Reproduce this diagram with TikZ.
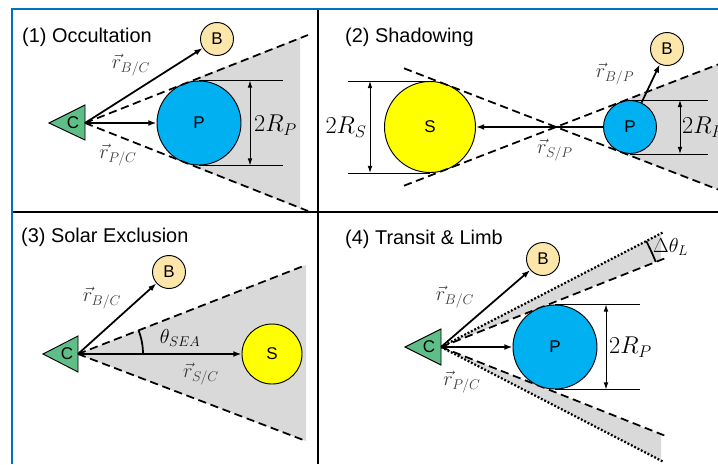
\documentclass[tikz,border=0pt]{standalone}
\usepackage{amsmath}
\usepackage[no-math]{fontspec}
\newfontfamily\arialfont{Liberation Sans}
\usetikzlibrary{arrows.meta,calc,backgrounds}

\definecolor{craftgreen}{RGB}{95,190,135}
\definecolor{planetblue}{RGB}{0,176,240}
\definecolor{sunyellow}{RGB}{255,255,0}
\definecolor{bodytan}{RGB}{253,230,170}
\definecolor{shadegray}{RGB}{217,217,217}
\definecolor{frameblue}{RGB}{0,112,192}
\definecolor{labelgray}{RGB}{60,60,60}

\tikzset{
  paneltitle/.style={anchor=west, inner sep=0pt, font=\fontsize{17}{20}\selectfont\arialfont},
  body/.style={circle, draw, line width=0.8pt, inner sep=0pt, font=\fontsize{14.5}{17}\selectfont\arialfont},
  planet/.style={body, fill=planetblue},
  sun/.style={body, fill=sunyellow},
  target/.style={body, fill=bodytan, minimum size=0.99cm},
  craft/.style={draw, line width=0.8pt, fill=craftgreen},
  craftlabel/.style={inner sep=0pt, font=\fontsize{14.5}{17}\selectfont\arialfont},
  vec/.style={-{Latex[length=7pt,width=5pt]}, line width=1.5pt},
  vecname/.style={inner sep=1pt, text=labelgray, font=\fontsize{16.5}{19}\selectfont},
  cone/.style={dash pattern=on 7pt off 4pt, line width=1.5pt},
  limb/.style={dash pattern=on 1.6pt off 1.6pt, line width=1.9pt},
  dimline/.style={line width=0.8pt},
  dimarrow/.style={{Latex[length=6pt,width=4pt]}-{Latex[length=6pt,width=4pt]}, line width=0.8pt},
  dimname/.style={anchor=west, inner sep=0pt, font=\fontsize{19.5}{22}\selectfont},
  anglename/.style={inner sep=0pt, font=\fontsize{17.5}{20}\selectfont},
}

\begin{document}
\begin{tikzpicture}[x=0.03cm, y=-0.03cm]
  \clip (0,0) rectangle (718,464);

  % frame
  \draw[line width=1.2pt] (318,9) -- (318,464);
  \draw[line width=1.2pt] (12,212) -- (718,212);
  \draw[frameblue, line width=2.5pt] (12,464) -- (12,9) -- (718,9);

  % (1) Occultation
  \node[paneltitle] (title1) at (22,37) {(1) Occultation};
  \draw[craft] (49,123) -- (85,105) -- (85,140) -- cycle;
  \node[craftlabel] (C1) at (73,123) {C};
  \coordinate (c1) at (85,123);
  \coordinate (u1) at (308,35);
  \coordinate (l1) at (308,211);
  \node[planet, minimum size=2.52cm] (P1) at (199,123) {P};
  \node[target] (B1) at (217,39) {B};
  \begin{scope}[on background layer]
    \fill[shadegray] (P1.center) -- (P1.111.6) -- (300,38) -- (300,208) -- (P1.248.4) -- cycle;
  \end{scope}
  \draw[cone] (c1) -- (u1);
  \draw[cone] (c1) -- (l1);
  \draw[vec] (c1) -- (B1);
  \draw[vec] (c1) -- (P1);
  \node[vecname] (rBC1) at (131,65) {$\vec{r}_{B/C}$};
  \node[vecname] (rPC1) at (118,155) {$\vec{r}_{P/C}$};
  \draw[dimline] (P1.north) -- ++(84,0);
  \draw[dimline] (P1.south) -- ++(84,0);
  \draw[dimarrow] ($(P1.north)+(51,0)$) -- ($(P1.south)+(51,0)$);
  \node[dimname] (RP1) at (254,125) {$2R_P$};

  % (2) Shadowing
  \node[paneltitle] (title2) at (345,37) {(2) Shadowing};
  \node[sun, minimum size=2.73cm] (S2) at (430,127) {S};
  \node[planet, minimum size=1.59cm] (P2) at (630,127) {P};
  \node[target] (B2) at (667,49) {B};
  \coordinate (ul2) at (404,68.3);
  \coordinate (ll2) at (404,185.7);
  \coordinate (ur2) at (720,63.7);
  \coordinate (lr2) at (720,190.3);
  \begin{scope}[on background layer]
    \fill[shadegray] (P2.center) -- (P2.111.1) -- (ur2) -- (lr2) -- (P2.248.9) -- cycle;
  \end{scope}
  \draw[cone] (ul2) -- (lr2);
  \draw[cone] (ll2) -- (ur2);
  \draw[vec] (P2) -- (S2);
  \draw[vec] (P2) -- (B2);
  \node[vecname] (rBP2) at (615,74) {$\vec{r}_{B/P}$};
  \node[vecname] (rSP2) at (555,150) {$\vec{r}_{S/P}$};
  \draw[dimline] (S2.north) -- ++(-82,0);
  \draw[dimline] (S2.south) -- ++(-82,0);
  \draw[dimarrow] ($(S2.north)+(-60,0)$) -- ($(S2.south)+(-60,0)$);
  \node[dimname, anchor=center] (RS2) at (346,127) {$2R_S$};
  \draw[dimline] (P2.north) -- ++(78,0);
  \draw[dimline] (P2.south) -- ++(78,0);
  \draw[dimarrow] ($(P2.north)+(50,0)$) -- ($(P2.south)+(50,0)$);
  \node[dimname] (RP2) at (682,127) {$2R_P$};

  % (3) Solar Exclusion
  \node[paneltitle] (title3) at (21,237) {(3) Solar Exclusion};
  \coordinate (c3) at (78,354);
  \coordinate (u3) at (306,265);
  \coordinate (l3) at (306,441);
  \fill[shadegray] (c3) -- (u3) -- (l3) -- cycle;
  \draw[cone] (c3) -- (u3);
  \draw[cone] (c3) -- (l3);
  \draw[craft] (43,354) -- (78,336) -- (78,372) -- cycle;
  \node[craftlabel] (C3) at (67,354) {C};
  \node[sun, minimum size=1.8cm] (S3) at (272,354) {S};
  \node[target] (B3) at (169,272) {B};
  \draw[vec] (c3) -- (B3);
  \draw[vec] (c3) -- (S3);
  \draw[line width=1.5pt] ($(c3)+(65,0)$) arc[start angle=0, end angle=21.3, radius=1.95cm];
  \node[anglename] (th3) at (180,338) {$\theta_{SEA}$};
  \node[vecname] (rBC3) at (102,298) {$\vec{r}_{B/C}$};
  \node[vecname] (rSC3) at (201,374) {$\vec{r}_{S/C}$};

  % (4) Transit & Limb
  \node[paneltitle] (title4) at (345,239) {(4) Transit \& Limb};
  \coordinate (c4) at (441,347);
  \coordinate (ud4) at (665,258.3);
  \coordinate (ld4) at (665,435.7);
  \coordinate (uo4) at (663,232.4);
  \coordinate (lo4) at (663,461.6);
  \fill[shadegray] (c4) -- (661,233.5) -- (661,259.1) -- cycle;
  \fill[shadegray] (c4) -- (661,460.5) -- (661,434.9) -- cycle;
  \draw[limb] (c4) -- (uo4);
  \draw[limb] (c4) -- (lo4);
  \draw[cone] (c4) -- (ud4);
  \draw[cone] (c4) -- (ld4);
  \draw[craft] (405,347) -- (441,329) -- (441,365) -- cycle;
  \node[craftlabel] (C4) at (429,347) {C};
  \node[planet, minimum size=2.52cm] (P4) at (555,347) {P};
  \node[target] (B4) at (543,259) {B};
  \draw[vec] (c4) -- (B4);
  \draw[vec] (c4) -- (P4);
  \draw[line width=1.5pt] ($(c4)+(21.6:6.93cm)$) arc[start angle=21.6, end angle=27.3, radius=6.93cm];
  \node[anglename, anchor=west] (dth4) at (653,247) {$\Delta\theta_L$};
  \node[vecname] (rBC4) at (455,297) {$\vec{r}_{B/C}$};
  \node[vecname] (rPC4) at (462,382) {$\vec{r}_{P/C}$};
  \draw[dimline] (P4.north) -- ++(85,0);
  \draw[dimline] (P4.south) -- ++(85,0);
  \draw[dimarrow] ($(P4.north)+(51,0)$) -- ($(P4.south)+(51,0)$);
  \node[dimname] (RP4) at (609,347) {$2R_P$};
\end{tikzpicture}
\end{document}
